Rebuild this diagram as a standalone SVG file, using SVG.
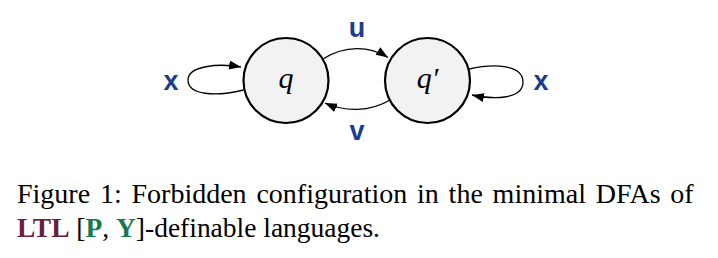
<svg xmlns="http://www.w3.org/2000/svg" width="718" height="258" viewBox="0 0 718 258">
<style>
.state{fill:#f2f2f2;stroke:#000;stroke-width:2.2}
.slabel{font-family:"Liberation Serif","DejaVu Serif",serif;font-style:italic;font-size:30px;fill:#000;text-anchor:middle}
.edge{fill:none;stroke:#000;stroke-width:1.3}
.elabel{font-family:"Liberation Sans",Arial,sans-serif;font-weight:bold;font-size:27px;fill:#1b3d8f;text-anchor:middle}
.cap{font-family:"Liberation Serif","Times New Roman",serif;font-size:28px;fill:#000}
.ltl{font-weight:bold;fill:#6b1e3b}
.py{font-weight:bold;fill:#157a4e}
</style>
<defs>
<marker id="arr" markerUnits="userSpaceOnUse" markerWidth="13" markerHeight="10" refX="12" refY="4.5" orient="auto">
<path d="M0,0 L12,4.5 L0,9 z" fill="#000"/>
</marker>
</defs>
<g id="connectors">
<path class="edge" d="M243.5 90 C215 97 188 95 188 80 C188 66 218 63 241 67" marker-end="url(#arr)"/>
<path class="edge" d="M469 69 C495 63 523 65 523 82 C523 99 495 100 472 95" marker-end="url(#arr)"/>
<path class="edge" d="M323 59 C345 45 370 46 388 57.5" marker-end="url(#arr)"/>
<path class="edge" d="M390 100 C370 112 345 112 325 103" marker-end="url(#arr)"/>
<text class="elabel" x="171" y="90">x</text>
<text class="elabel" x="541" y="90">x</text>
<text class="elabel" x="357" y="37">u</text>
<text class="elabel" x="357" y="140">v</text>
</g>
<g id="node-q">
<circle class="state" cx="286" cy="80.5" r="42.5"/>
<text class="slabel" x="286" y="88">q</text>
</g>
<g id="node-qprime">
<circle class="state" cx="427.5" cy="80.5" r="42.5"/>
<text class="slabel" x="427.5" y="88">q′</text>
</g>
<g id="caption">
<text class="cap" x="17" y="203" word-spacing="2.8">Figure 1: Forbidden configuration in the minimal DFAs of</text>
<text class="cap" x="17" y="236.5" textLength="363" lengthAdjust="spacingAndGlyphs"><tspan class="ltl">LTL</tspan> [<tspan class="py">P</tspan>, <tspan class="py">Y</tspan>]-definable languages.</text>
</g>
</svg>
